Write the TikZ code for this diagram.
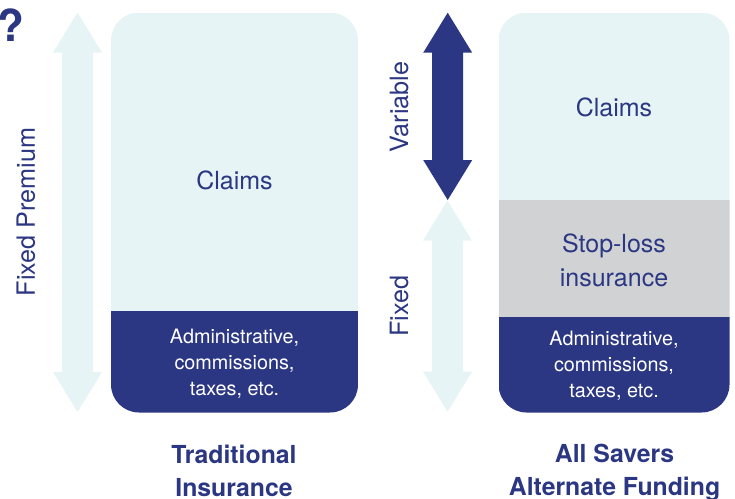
\documentclass[tikz,border=0pt]{standalone}
\usepackage{fontspec}
\setmainfont{TeX Gyre Heros}

\definecolor{navy}{RGB}{43,55,130}
\definecolor{paleblue}{RGB}{230,244,245}
\definecolor{stopgray}{RGB}{209,210,212}

\tikzset{
	body/.style={font=\fontsize{25}{34}\selectfont, text=navy, align=center},
	costs/.style={font=\fontsize{19.8}{26}\selectfont, text=white, align=center},
	plan/.style={font=\fontsize{24.8}{33}\selectfont\bfseries, text=navy, align=center},
	side/.style={font=\fontsize{25.2}{30}\selectfont, text=navy, rotate=90},
}

% double headed block arrow: x, top, bottom, colour
\newcommand{\blockarrow}[4]{%
	\fill[#4] (#1,#2) -- (#1+24.5,#2+40) -- (#1+15.5,#2+40) -- (#1+15.5,#3-40)
		-- (#1+24.5,#3-40) -- (#1,#3) -- (#1-24.5,#3-40) -- (#1-15.5,#3-40)
		-- (#1-15.5,#2+40) -- (#1-24.5,#2+40) -- cycle;}

\begin{document}
\begin{tikzpicture}[x=1pt, y=-1pt]
	\useasboundingbox (0,0) rectangle (735,498);

	% arrows
	\blockarrow{77.5}{12.5}{412}{paleblue}
	\blockarrow{447.7}{12.7}{200}{navy}
	\blockarrow{447.5}{200.5}{411.7}{paleblue}

	% traditional column
	\begin{scope}
		\clip[rounded corners=28] (111,12.5) rectangle (358,412.5);
		\fill[paleblue] (111,12.5) rectangle (358,311);
		\fill[navy] (111,311) rectangle (358,412.5);
	\end{scope}

	% alternate funding column
	\begin{scope}
		\clip[rounded corners=28] (498.5,12.5) rectangle (729.5,412.5);
		\fill[paleblue] (498.5,12.5) rectangle (729.5,200);
		\fill[stopgray] (498.5,200) rectangle (729.5,317);
		\fill[navy] (498.5,317) rectangle (729.5,412.5);
	\end{scope}

	\node[font=\fontsize{44}{44}\selectfont\bfseries, text=navy] (q) at (10.5,25) {?};

	\node[side] (fixedprem) at (26,212) {Fixed Premium};
	\node[side] (variable) at (399,107) {Variable};
	\node[side] (fixed) at (399,306) {Fixed};

	\node[body] (claimsL) at (234.5,180) {Claims};
	\node[costs] (costsL) at (234.5,363.5) {Administrative,\\commissions,\\taxes, etc.};
	\node[plan] (trad) at (234,470.5) {Traditional\\Insurance};

	\node[body] (claimsR) at (614,107) {Claims};
	\node[body] (stoploss) at (614,260) {Stop-loss\\insurance};
	\node[costs] (costsR) at (614,366) {Administrative,\\commissions,\\taxes, etc.};
	\node[plan] (alt) at (614.5,473) {All Savers\\Alternate Funding};
\end{tikzpicture}
\end{document}
